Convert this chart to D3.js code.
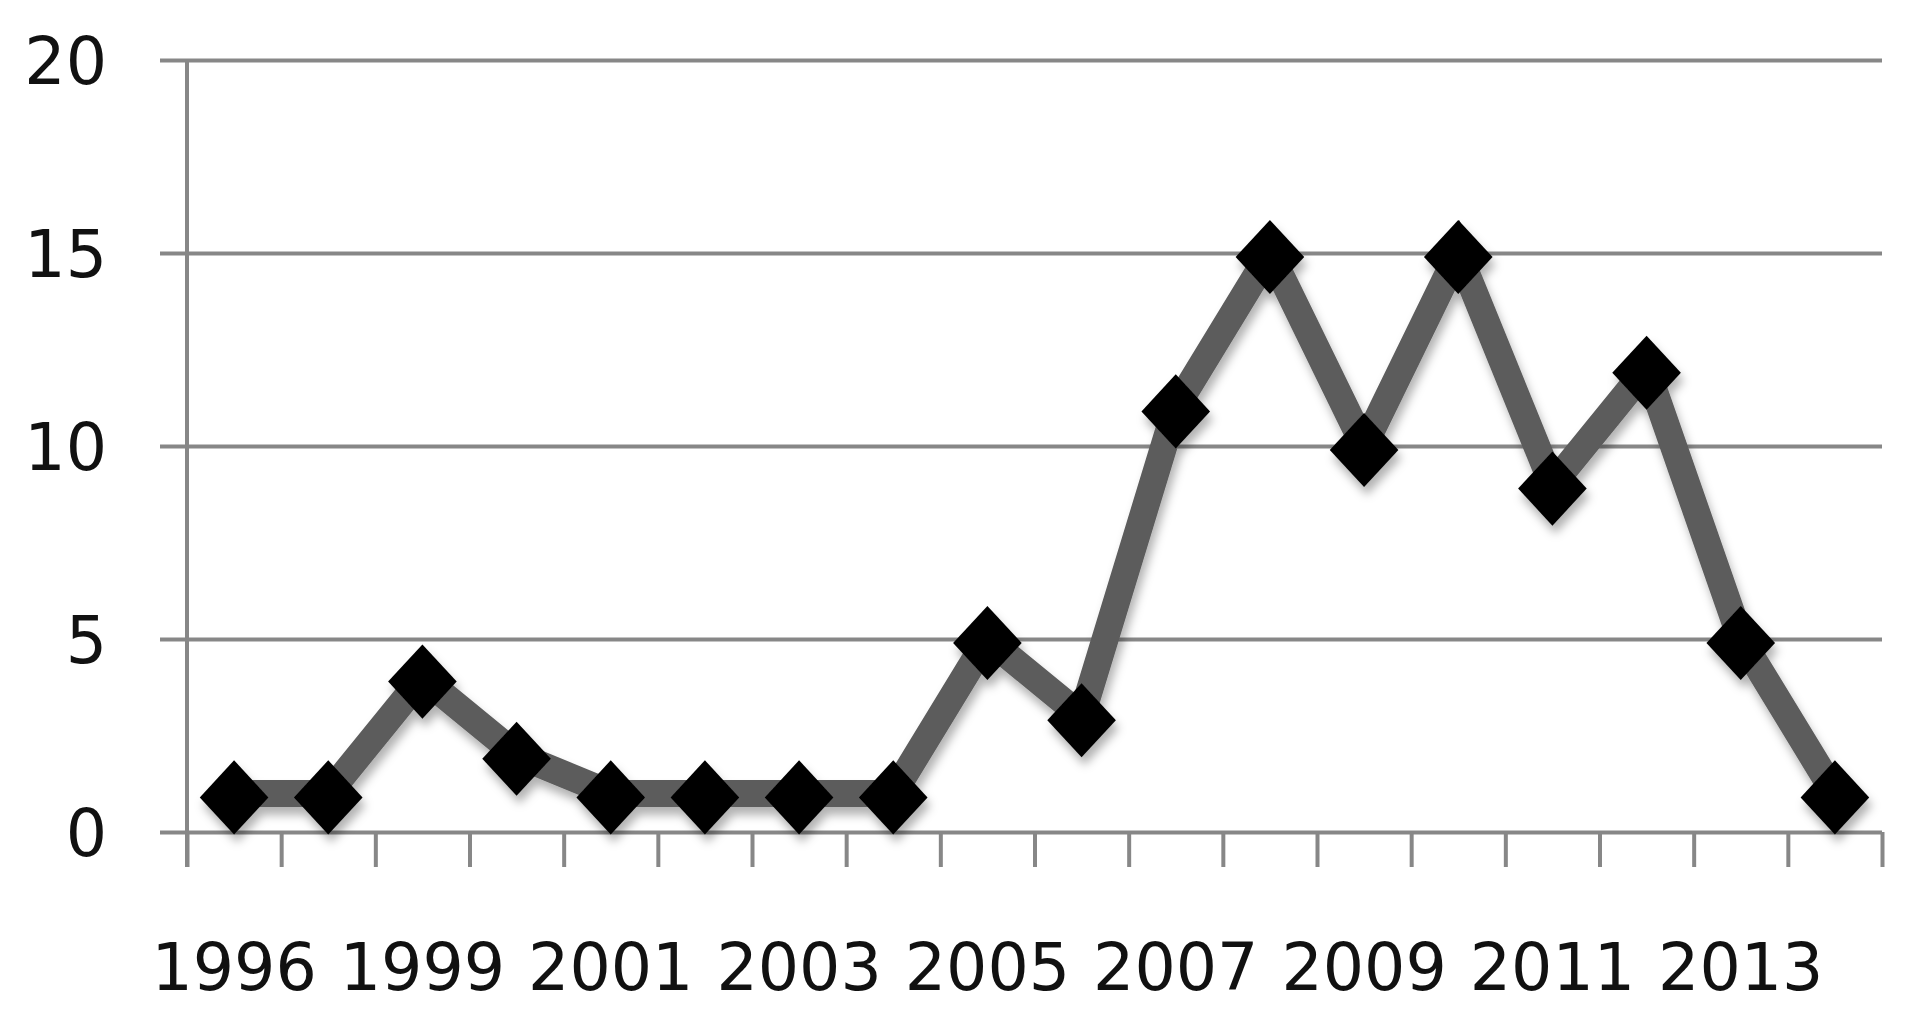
<!DOCTYPE html>
<html>
<head>
<meta charset="utf-8">
<script src="https://d3js.org/d3.v7.min.js"></script>
<style>
  body { margin: 0; background: #fff; }
  text { font-family: "DejaVu Sans", sans-serif; fill: #111; }
</style>
</head>
<body>
<svg id="chart"></svg>
<script>
// yearly counts, line with diamond markers
var years = ["1996", "1998", "1999", "2000", "2001", "2002", "2003", "2004", "2005",
             "2006", "2007", "2008", "2009", "2010", "2011", "2012", "2013", "2014"];
var counts = [1, 1, 4, 2, 1, 1, 1, 1, 5, 3, 11, 15, 10, 15, 9, 12, 5, 1];
var yTicks = [0, 5, 10, 15, 20];
var xLabels = ["1996", "1999", "2001", "2003", "2005", "2007", "2009", "2011", "2013"];

var svgWidth = 1919;
var svgHeight = 1025;
var margin = { top: 60, right: 37, bottom: 193, left: 187 };
var width = svgWidth - margin.left - margin.right;
var height = svgHeight - margin.top - margin.bottom;

var svg = d3.select("#chart")
    .attr("width", svgWidth)
    .attr("height", svgHeight);

var defs = svg.append("defs");
var shadow = defs.append("filter")
    .attr("id", "shadow")
    .attr("x", "-20%").attr("y", "-20%")
    .attr("width", "140%").attr("height", "140%");
shadow.append("feDropShadow")
    .attr("dx", 3).attr("dy", 8)
    .attr("stdDeviation", 5)
    .attr("flood-color", "#000")
    .attr("flood-opacity", 0.3);

var chartGroup = svg.append("g")
    .attr("transform", `translate(${margin.left}, ${margin.top})`);

var x = d3.scaleBand()
    .domain(years)
    .range([0, width])
    .padding(0);

var y = d3.scaleLinear()
    .domain([0, 20])
    .range([height, 0]);

// horizontal gridlines + y labels
var leftAxis = d3.axisLeft(y).tickValues(yTicks).tickSizeOuter(0);
var yAxisG = chartGroup.append("g").call(leftAxis);
yAxisG.select(".domain").remove();
yAxisG.selectAll(".tick line")
    .attr("x1", -27)
    .attr("x2", width)
    .attr("stroke", "#878787")
    .attr("stroke-width", 4);
yAxisG.selectAll(".tick text")
    .attr("x", -80)
    .attr("dy", "0.36em")
    .style("font-size", "65px");

// category boundary ticks
var idx = d3.scaleLinear().domain([0, years.length]).range([0, width]);
var tickAxis = d3.axisBottom(idx)
    .tickValues(d3.range(years.length + 1))
    .tickSize(35)
    .tickFormat("");
var tickG = chartGroup.append("g")
    .attr("transform", `translate(0, ${height})`)
    .call(tickAxis);
tickG.select(".domain").remove();
tickG.selectAll(".tick line")
    .attr("stroke", "#878787")
    .attr("stroke-width", 4);

// vertical axis line
chartGroup.append("line")
    .attr("x1", 0).attr("x2", 0)
    .attr("y1", 0).attr("y2", height + 35)
    .attr("stroke", "#878787")
    .attr("stroke-width", 4);

// x labels, every second category
var bottomAxis = d3.axisBottom(x)
    .tickValues(xLabels)
    .tickSize(0)
    .tickPadding(112);
var xAxisG = chartGroup.append("g")
    .attr("transform", `translate(0, ${height})`)
    .call(bottomAxis);
xAxisG.select(".domain").remove();
xAxisG.selectAll(".tick text")
    .style("font-size", "65px");

var cx = d => x(d.year) + x.bandwidth() / 2;
var data = years.map((yr, i) => ({ year: yr, value: counts[i] }));

var series = chartGroup.append("g").attr("filter", "url(#shadow)");

series.append("path")
    .datum(data)
    .attr("fill", "none")
    .attr("stroke", "#5b5b5b")
    .attr("stroke-width", 27)
    .attr("stroke-linejoin", "miter")
    .attr("d", d3.line().x(cx).y(d => y(d.value)));

series.selectAll(".marker")
    .data(data)
    .join("path")
    .attr("class", "marker")
    .attr("transform", d => `translate(${cx(d)}, ${y(d.value) + 4}) scale(1, 1.08)`)
    .attr("d", d3.symbol().type(d3.symbolDiamond2).size(3000))
    .attr("fill", "#000");
</script>
</body>
</html>
